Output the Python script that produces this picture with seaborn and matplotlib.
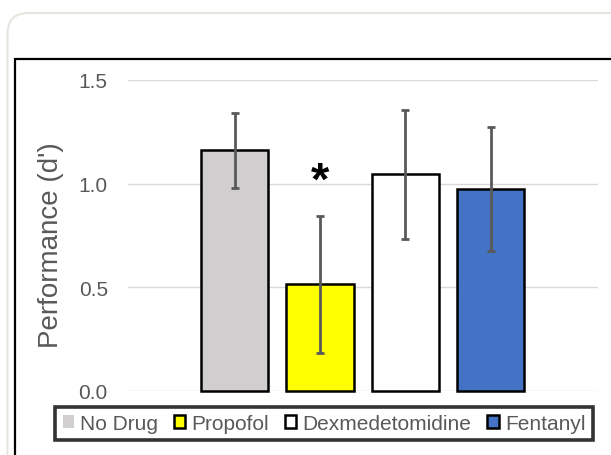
import matplotlib
matplotlib.use("Agg")
import matplotlib.pyplot as plt
import seaborn as sns
import pandas as pd
from matplotlib.patches import Patch, Rectangle, FancyBboxPatch
from matplotlib.transforms import IdentityTransform

# Mean detection performance (d') per drug condition, with standard errors
drugs = ["No Drug", "Propofol", "Dexmedetomidine", "Fentanyl"]
dprime = [1.16, 0.515, 1.045, 0.975]
sem = [0.18, 0.33, 0.31, 0.30]
colors = ["#D0CECE", "#FFFF00", "#FFFFFF", "#4472C4"]
yticks = [0.0, 0.5, 1.0, 1.5]
ytick_labels = ["0.0", "0.5", "1.0", "1.5"]

sns.set_theme(style="white")
plt.rcParams["font.family"] = ["Liberation Sans", "DejaVu Sans"]

W, H = 611, 456
fig = plt.figure(figsize=(W / 100, H / 100), dpi=100)
fig.patch.set_facecolor("white")

# Card outline and black chart frame (pixel coordinates)
card = FancyBboxPatch((7.5, -60), 700, 442 + 60,
                      boxstyle="round,pad=0,rounding_size=21",
                      transform=IdentityTransform(), facecolor="white",
                      edgecolor="#E6E4DE", linewidth=1.5, zorder=-3)
fig.patches.append(card)
frame = Rectangle((15, -60), 700, (H - 60) + 60, transform=IdentityTransform(),
                  fill=False, edgecolor="black", linewidth=1.6, zorder=-2)
fig.patches.append(frame)

ax = fig.add_axes([128 / W, 1 - 392 / H, 470 / W, 311 / H])
ax.patch.set_alpha(0)

df = pd.DataFrame({"drug": drugs, "dprime": dprime})
sns.barplot(data=df, x="drug", y="dprime", hue="drug", order=drugs,
            hue_order=drugs, palette=colors, saturation=1, width=0.79,
            edgecolor="black", linewidth=1.8, errorbar=None, legend=False,
            ax=ax, zorder=2)
for p in ax.patches:
    p.set_clip_on(False)

ax.errorbar(range(len(drugs)), dprime, yerr=sem, fmt="none",
            ecolor="#595959", elinewidth=2.0, capsize=3, capthick=2.0,
            zorder=3, clip_on=False)

# Significance marker over Propofol
ax.text(1, 1.01, "*", ha="center", va="center", fontsize=34,
        fontweight="bold", color="black")

ax.set_xlim(-1.25, 4.26)
ax.set_ylim(0, 1.5)
ax.set_yticks(yticks)
ax.set_yticklabels(ytick_labels)
ax.set_xticks([])
ax.set_xlabel("")
ax.set_ylabel("")
ax.yaxis.grid(True, color="#D9D9D9", linewidth=1.0)
ax.set_axisbelow(True)
for s in ax.spines.values():
    s.set_visible(False)
ax.tick_params(axis="y", length=0, pad=14.5, labelsize=15, labelcolor="#595959")

fig.text(51 / W, 1 - 245 / H, "Performance (d')", rotation=90, ha="center",
         va="center", fontsize=20, color="#595959")

handles = [Patch(facecolor=c, edgecolor=("none" if i == 0 else "black"),
                 linewidth=1.8) for i, c in enumerate(colors)]
leg = fig.legend(handles, drugs, loc="center",
                 bbox_to_anchor=(324 / W, 1 - 424.5 / H), ncol=4,
                 frameon=True, fancybox=False, edgecolor="black",
                 fontsize=15, handlelength=0.55, handleheight=0.55,
                 handletextpad=0.3, columnspacing=0.75, borderpad=0.35,
                 labelcolor="#595959", borderaxespad=0)
leg.get_frame().set_linewidth(2.6)
leg.get_frame().set_facecolor("white")

fig.savefig("out.png", dpi=100)
